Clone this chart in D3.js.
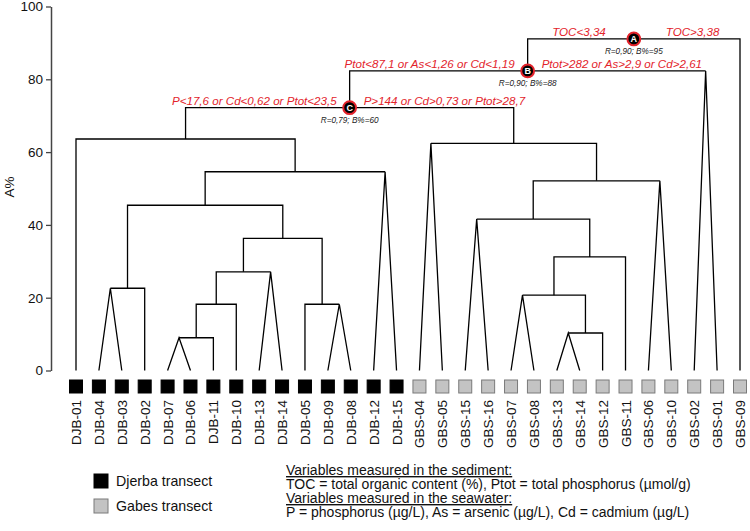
<!DOCTYPE html>
<html>
<head>
<meta charset="utf-8">
<script src="https://cdn.jsdelivr.net/npm/d3@7"></script>
<style>
  html, body { margin: 0; padding: 0; background: #fff; }
  svg { display: block; font-family: "Liberation Sans", Arial, sans-serif; }
</style>
</head>
<body>
<svg id="chart" width="750" height="531"></svg>
<script>
// ---------------- DATA ----------------
const leaves = ["DJB-01","DJB-04","DJB-03","DJB-02","DJB-07","DJB-06","DJB-11","DJB-10",
  "DJB-13","DJB-14","DJB-05","DJB-09","DJB-08","DJB-12","DJB-15",
  "GBS-04","GBS-05","GBS-15","GBS-16","GBS-07","GBS-08","GBS-13","GBS-14","GBS-12",
  "GBS-11","GBS-06","GBS-10","GBS-02","GBS-01","GBS-09"];

// merges: [id, child1, child2, height (A%), join style]
const merges = [
  ["d1","DJB-07","DJB-06",9.0,"v"],
  ["d2","d1","DJB-11",9.0,"b"],
  ["d3","d2","DJB-10",18.2,"b"],
  ["d4","DJB-13","DJB-14",27.1,"v"],
  ["d5","d3","d4",27.1,"b"],
  ["d6","DJB-09","DJB-08",18.2,"v"],
  ["d7","DJB-05","d6",18.2,"b"],
  ["d8","d5","d7",36.3,"b"],
  ["d9","DJB-04","DJB-03",22.6,"v"],
  ["d10","d9","DJB-02",22.6,"b"],
  ["d11","d10","d8",45.4,"b"],
  ["d12","DJB-12","DJB-15",54.6,"v"],
  ["d13","d11","d12",54.6,"b"],
  ["d14","DJB-01","d13",63.6,"b"],
  ["g1","GBS-13","GBS-14",10.3,"v"],
  ["g2","g1","GBS-12",10.3,"b"],
  ["g3","GBS-07","GBS-08",20.7,"v"],
  ["g4","g3","g2",20.7,"b"],
  ["g5","g4","GBS-11",31.2,"b"],
  ["g6","GBS-15","GBS-16",41.6,"v"],
  ["g7","g6","g5",41.6,"b"],
  ["g8","GBS-06","GBS-10",52.1,"v"],
  ["g9","g7","g8",52.1,"b"],
  ["g10","GBS-04","GBS-05",62.4,"v"],
  ["g11","g10","g9",62.4,"b"],
  ["C","d14","g11",72.2,"b"],
  ["g12","GBS-02","GBS-01",82.3,"v"],
  ["B","C","g12",82.3,"b"],
  ["A","B","GBS-09",91.1,"b"]
];

const yTicks = [0,20,40,60,80,100];
const splitNodes = ["A","B","C"];
const leftRules  = ["TOC<3,34","Ptot<87,1 or As<1,26 or Cd<1,19","P<17,6 or Cd<0,62 or Ptot<23,5"];
const rightRules = ["TOC>3,38","Ptot>282 or As>2,9 or Cd>2,61","P>144 or Cd>0,73 or Ptot>28,7"];
const splitStats = ["R=0,90; B%=95","R=0,90; B%=88","R=0,79; B%=60"];

const legendLabels = ["Djerba transect","Gabes transect"];
const noteLines = [
  {text:"Variables measured in the sediment:", u:true},
  {text:"TOC = total organic content (%), Ptot = total phosphorus (\u00b5mol/g)", u:false},
  {text:"Variables measured in the seawater:", u:true},
  {text:"P = phosphorus (\u00b5g/L), As = arsenic (\u00b5g/L), Cd = cadmium (\u00b5g/L)", u:false}
];

// ---------------- DRAW ----------------
const svg = d3.select("#chart");
const RED = "#e3232b";
const DJB_FILL = "#000", GBS_FILL = "#c3c3c3";
const groupOf = n => n.startsWith("DJB") ? 0 : 1;

const x = d3.scalePoint().domain(leaves).range([76, 740]);
const y = d3.scaleLinear().domain([0,100]).range([370.5, 6.5]);

// y axis
const axis = svg.append("g").attr("transform","translate(51,0)")
  .call(d3.axisLeft(y).tickValues(yTicks).tickSize(5).tickSizeOuter(0).tickPadding(3));
axis.select(".domain").attr("stroke","#444").attr("stroke-width",1.5);
axis.selectAll(".tick line").attr("stroke","#444").attr("stroke-width",1.3);
axis.selectAll(".tick text").attr("font-size","13.5px").attr("fill","#111")
  .attr("font-family","Liberation Sans, Arial, sans-serif");

svg.append("text").attr("transform","translate(14,187) rotate(-90)")
  .attr("text-anchor","middle").attr("font-size","13.5px").attr("fill","#111").text("A%");

// node positions
const pos = {};
leaves.forEach(n => pos[n] = {x: x(n), h: 0});
const g = svg.append("g").attr("fill","none").attr("stroke","#000").attr("stroke-width",1.3);
merges.forEach(([id,a,b,h,style]) => {
  const pa = pos[a], pb = pos[b];
  const mx = (pa.x + pb.x) / 2;
  if (style === "v") {
    g.append("path").attr("d", d3.line()([[pa.x,y(pa.h)],[mx,y(h)],[pb.x,y(pb.h)]]));
  } else {
    g.append("path").attr("d", d3.line()([[pa.x,y(pa.h)],[pa.x,y(h)],[pb.x,y(h)],[pb.x,y(pb.h)]]));
  }
  pos[id] = {x: mx, h: h};
});

// leaf squares and labels
svg.append("g").selectAll("rect").data(leaves).join("rect")
  .attr("x", d => x(d) - 6.5).attr("y", 380).attr("width", 13).attr("height", 13)
  .attr("fill", d => groupOf(d) ? GBS_FILL : DJB_FILL)
  .attr("stroke", d => groupOf(d) ? "#7a7a7a" : "#000").attr("stroke-width", 1);
svg.append("g").selectAll("text").data(leaves).join("text")
  .attr("transform", d => `translate(${x(d)+5},400) rotate(-90)`)
  .attr("text-anchor","end").attr("font-size","13.5px").attr("fill","#111").text(d => d);

// split annotations
splitNodes.forEach((id,i) => {
  const p = pos[id];
  const cx = p.x, cy = y(p.h);
  const offL = id === "A" ? 28 : 13, offR = id === "A" ? 32 : 14;
  svg.append("text").attr("x", cx - offL).attr("y", cy - 3)
    .attr("text-anchor","end").attr("font-size","11.6px").attr("font-style","italic")
    .attr("fill", RED).text(leftRules[i]);
  svg.append("text").attr("x", cx + offR).attr("y", cy - 3)
    .attr("text-anchor","start").attr("font-size","11.6px").attr("font-style","italic")
    .attr("fill", RED).text(rightRules[i]);
  svg.append("text").attr("x", cx).attr("y", cy + 15)
    .attr("text-anchor","middle").attr("font-size","8.2px").attr("font-style","italic")
    .attr("fill","#222").text(splitStats[i]);
  svg.append("circle").attr("cx", cx).attr("cy", cy).attr("r", 6.4)
    .attr("fill","#000").attr("stroke", RED).attr("stroke-width", 2);
  svg.append("text").attr("x", cx).attr("y", cy + 3.3)
    .attr("text-anchor","middle").attr("font-size","9px").attr("font-weight","bold")
    .attr("fill","#fff").text(id);
});

// legend
const lg = svg.append("g");
legendLabels.forEach((t,i) => {
  lg.append("rect").attr("x", 94).attr("y", 474 + i*25).attr("width", 14).attr("height", 14)
    .attr("fill", i ? GBS_FILL : DJB_FILL).attr("stroke", i ? "#7a7a7a" : "#000");
  lg.append("text").attr("x", 116).attr("y", 486 + i*25)
    .attr("font-size","14.2px").attr("fill","#111").text(t);
});

// notes
noteLines.forEach((l,i) => {
  svg.append("text").attr("x", 286).attr("y", 475 + i*14)
    .attr("font-size","14px").attr("fill","#111")
    .attr("text-decoration", l.u ? "underline" : null).text(l.text);
});
</script>
</body>
</html>
